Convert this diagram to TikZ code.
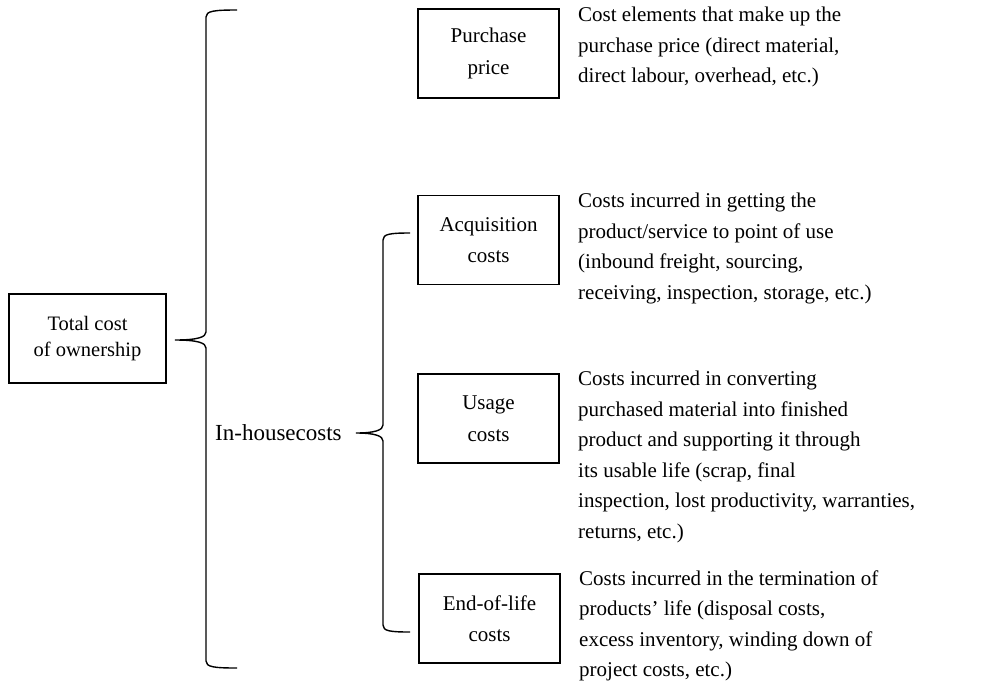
\documentclass[tikz,border=0pt]{standalone}
\usepackage{fontspec}
\setmainfont{Liberation Serif}
\begin{document}
\begin{tikzpicture}[x=1pt,y=-1pt,
  box/.style={draw, line width=1.1pt, minimum width=141pt, minimum height=89pt, inner sep=0pt, align=center, font=\fontsize{21}{31.5}\selectfont},
  desc/.style={anchor=west, align=left, inner sep=0pt, font=\fontsize{21}{30.5}\selectfont},
  brace/.style={line width=1.4pt}]
\useasboundingbox (0,0) rectangle (984,686);

\node[box, minimum width=157pt, font=\fontsize{20.5}{26}\selectfont] (tco) at (87.5,338.5) {Total cost\\of ownership};
\node[box] (pp) at (488.5,53.5) {Purchase\\price};
\node[box] (ac) at (488.5,240) {Acquisition\\costs};
\node[box] (us) at (488.5,418.5) {Usage\\costs};
\node[box] (el) at (489.5,618.5) {End-of-life\\costs};

\node[anchor=west, inner sep=0pt, font=\fontsize{23}{27}\selectfont] (ih) at (215,433) {In-housecosts};

\draw[brace] (237,10) .. controls (214,10) and (206,11) .. (206,17) -- (206,332) .. controls (206,337) and (198,340) .. (175,340) .. controls (198,340) and (206,343) .. (206,348) -- (206,661) .. controls (206,667) and (214,668) .. (237,668);

\draw[brace] (410,233) .. controls (390,233) and (383,234) .. (383,240) -- (383,425) .. controls (383,430) and (375,433) .. (356,433) .. controls (375,433) and (383,436) .. (383,441) -- (383,625) .. controls (383,631) and (390,632) .. (410,632);

\node[desc] (d1) at (578,47) {Cost elements that make up the\\purchase price (direct material,\\direct labour, overhead, etc.)};
\node[desc] (d2) at (578,248.5) {Costs incurred in getting the\\product/service to point of use\\(inbound freight, sourcing,\\receiving, inspection, storage, etc.)};
\node[desc] (d3) at (578,457) {Costs incurred in converting\\purchased material into finished\\product and supporting it through\\its usable life (scrap, final\\inspection, lost productivity, warranties,\\returns, etc.)};
\node[desc] (d4) at (579,626) {Costs incurred in the termination of\\products’ life (disposal costs,\\excess inventory, winding down of\\project costs, etc.)};
\end{tikzpicture}
\end{document}
